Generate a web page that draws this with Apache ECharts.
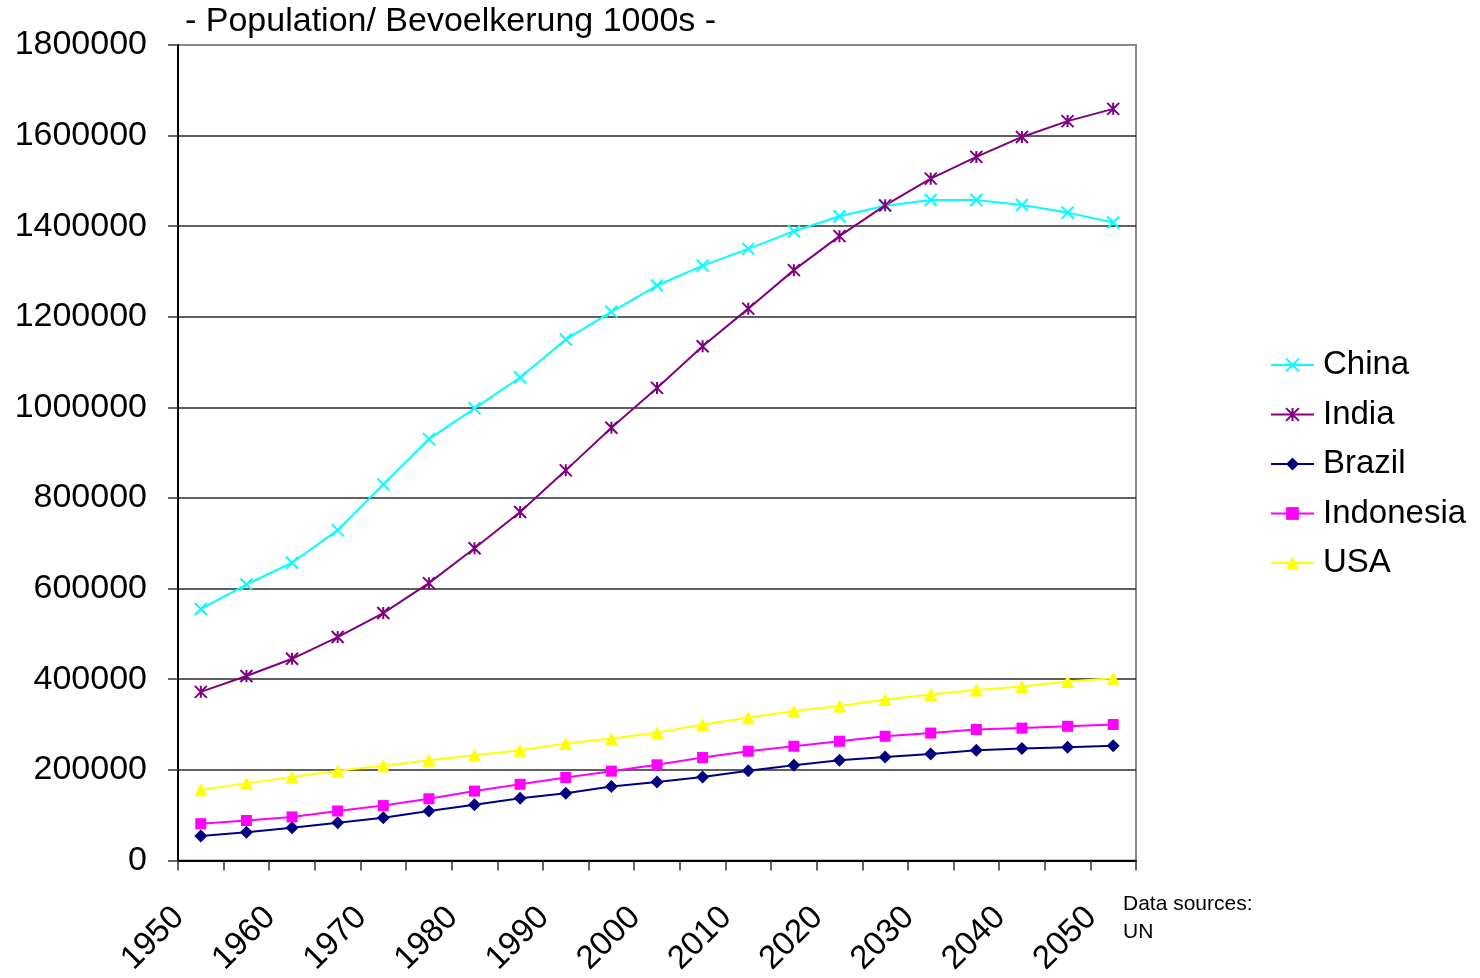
<!DOCTYPE html>
<html>
<head>
<meta charset="utf-8">
<title>Population / Bevoelkerung 1000s</title>
<script src="https://cdn.jsdelivr.net/npm/echarts@6/dist/echarts.min.js"></script>
<style>
  html, body { margin: 0; padding: 0; background: #fff; }
  #chart { width: 1480px; height: 978px; }
</style>
</head>
<body>
<div id="chart"></div>
<script>
// Years (5-year steps) on the category axis
const years = ['1950','1955','1960','1965','1970','1975','1980','1985','1990','1995','2000',
               '2005','2010','2015','2020','2025','2030','2035','2040','2045','2050'];

// Population in thousands
const china = [555000, 609000, 657000, 729000, 830000, 930000, 998000, 1066000, 1150000, 1211000, 1269000,
               1313000, 1350000, 1389000, 1422000, 1445000, 1458000, 1458000, 1447000, 1430000, 1408000];
const india = [372000, 407000, 445000, 493000, 546000, 612000, 689000, 769000, 861000, 955000, 1043000,
               1135000, 1218000, 1303000, 1378000, 1446000, 1505000, 1553000, 1597000, 1632000, 1659000];
const brazil = [54000, 62000, 72000, 83000, 94000, 109000, 123000, 137000, 148000, 163000, 173000,
                184000, 198000, 210000, 221000, 228000, 235000, 243000, 247000, 250000, 253000];
const indonesia = [81000, 88000, 96000, 109000, 121000, 136000, 153000, 168000, 183000, 197000, 211000,
                   227000, 241000, 252000, 263000, 274000, 281000, 289000, 292000, 296000, 300000];
const usa = [156000, 170000, 184000, 198000, 209000, 221000, 232000, 243000, 258000, 269000, 282000,
             300000, 315000, 330000, 341000, 355000, 366000, 376000, 384000, 395000, 402000];

// Y axis range
const yMin = 0, yMax = 1800000, yStep = 200000;

const FONT = '"Liberation Sans", Arial, sans-serif';

const seriesDefs = [
  { name: 'China',     data: china,     color: '#00FFFF', symbol: 'path://M0,0L10,10M10,0L0,10', size: 12, border: 2 },
  { name: 'India',     data: india,     color: '#800080', symbol: 'path://M0,0L10,10M10,0L0,10M5,0L5,10', size: 12, border: 2 },
  { name: 'Brazil',    data: brazil,    color: '#000080', symbol: 'diamond', size: 13, border: 0 },
  { name: 'Indonesia', data: indonesia, color: '#FF00FF', symbol: 'rect', size: 11, border: 0 },
  { name: 'USA',       data: usa,       color: '#FFFF00', symbol: 'triangle', size: 13, border: 0 }
];

const chart = echarts.init(document.getElementById('chart'), null, { renderer: 'canvas' });

chart.setOption({
  animation: false,
  backgroundColor: '#ffffff',
  textStyle: { fontFamily: FONT },
  title: {
    text: '- Population/ Bevoelkerung 1000s -',
    left: 185,
    top: 3,
    padding: 0,
    textStyle: { fontFamily: FONT, fontSize: 34, fontWeight: 'normal', color: '#000', lineHeight: 38 }
  },
  grid: {
    left: 178, right: 344, top: 45, bottom: 115,
    show: true, borderColor: '#888888', borderWidth: 2, backgroundColor: 'transparent'
  },
  legend: {
    orient: 'vertical',
    left: 1270,
    top: 347,
    padding: 0,
    itemWidth: 43,
    itemHeight: 16,
    itemGap: 13.5,
    data: seriesDefs.map(s => s.name),
    textStyle: { fontFamily: FONT, fontSize: 33, color: '#000', lineHeight: 36, padding: [0, 0, 0, 4] }
  },
  xAxis: {
    type: 'category',
    data: years,
    boundaryGap: true,
    axisLine: { show: true, lineStyle: { color: '#000', width: 2 } },
    axisTick: { show: true, interval: 0, length: 10, lineStyle: { color: '#333', width: 1.5 } },
    axisLabel: {
      interval: 1, rotate: 45, margin: 30, padding: [0, 31, 0, 0],
      fontFamily: FONT, fontSize: 33, color: '#000'
    },
    splitLine: { show: false }
  },
  yAxis: {
    type: 'value',
    min: yMin, max: yMax, interval: yStep,
    axisLine: { show: true, lineStyle: { color: '#000', width: 2 } },
    axisTick: { show: true, length: 10, lineStyle: { color: '#333', width: 1.5 } },
    axisLabel: {
      margin: 31, fontFamily: FONT, fontSize: 34, color: '#000',
      formatter: v => String(v)
    },
    splitLine: { show: true, showMaxLine: false, lineStyle: { color: '#2a2a2a', width: 1.5 } }
  },
  graphic: [
    {
      type: 'text',
      left: 1123,
      top: 890,
      style: {
        text: 'Data sources:\nUN',
        font: '21px ' + FONT,
        lineHeight: 28,
        fill: '#000'
      }
    }
  ],
  series: seriesDefs.map(s => ({
    name: s.name,
    type: 'line',
    data: s.data,
    symbol: s.symbol,
    symbolSize: s.size,
    showAllSymbol: true,
    color: s.color,
    lineStyle: { color: s.color, width: 2 },
    itemStyle: { color: s.color, borderColor: s.color, borderWidth: s.border },
    emphasis: { disabled: true }
  }))
});
</script>
</body>
</html>
